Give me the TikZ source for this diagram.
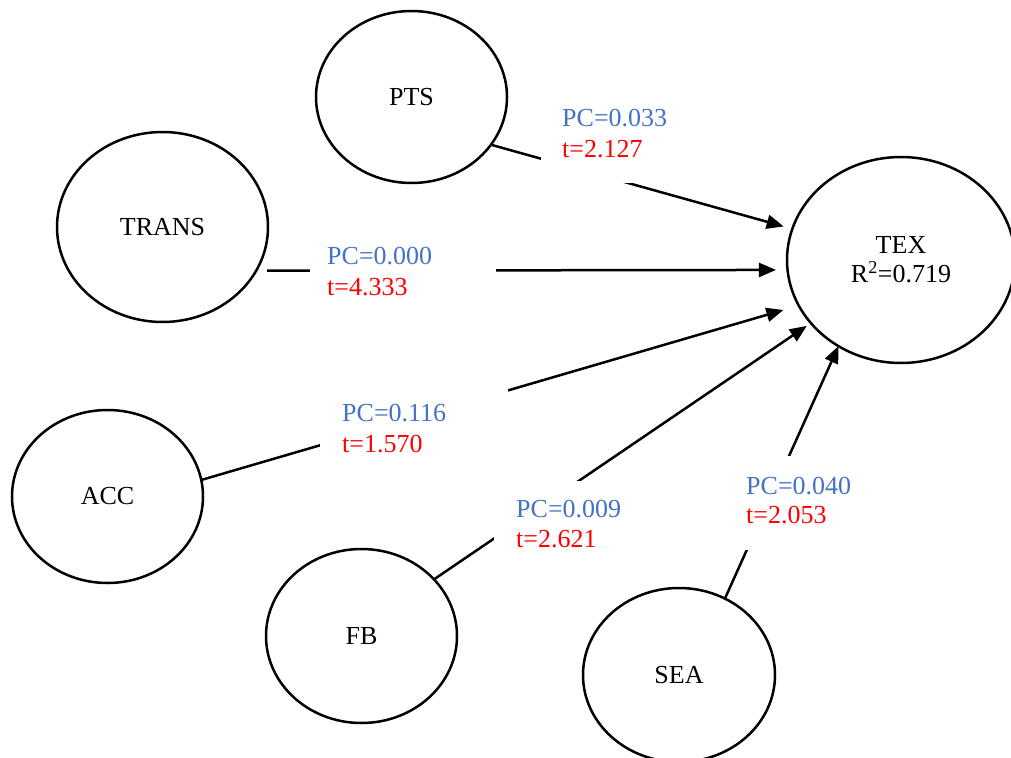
\documentclass[tikz,border=0pt]{standalone}
\usepackage{fontspec}
\setmainfont{Liberation Serif}
\usetikzlibrary{shapes.geometric,arrows.meta}
\definecolor{pcblue}{HTML}{4472C4}
\definecolor{tred}{HTML}{FF0000}
\begin{document}
\begin{tikzpicture}[x=1pt,y=-1pt,
  every node/.style={font=\fontsize{26}{29}\selectfont},
  lat/.style={ellipse, draw, line width=2.5pt, inner sep=0pt, outer sep=0pt, align=center},
  conn/.style={line width=2.5pt, -{Triangle[length=17pt,width=14pt]}},
  mask/.style={rectangle, fill=white, inner sep=0pt, outer sep=0pt, anchor=north west},
  pctext/.style={text=pcblue, anchor=base west, inner sep=0pt},
  ttext/.style={text=tred, anchor=base west, inner sep=0pt}]
\useasboundingbox (0,0) rectangle (1011,757);
% latent variables
\node[lat, minimum width=191pt, minimum height=172pt] (pts) at (411.5,97) {PTS};
\node[lat, minimum width=211pt, minimum height=190pt] (trans) at (162.5,227) {TRANS};
\node[lat, minimum width=191pt, minimum height=173pt] (acc) at (107.5,496.5) {ACC};
\node[lat, minimum width=191pt, minimum height=174pt] (fb) at (361.5,636) {FB};
\node[lat, minimum width=192pt, minimum height=174pt] (sea) at (679,675) {SEA};
\node[lat, minimum width=228pt, minimum height=206pt] (tex) at (901,260) {TEX\\R\textsuperscript{2}=0.719};
% paths
\draw[conn, shorten >=9pt] (pts.-31.7) -- (tex.164.2);
\draw[conn, shorten <=11pt, shorten >=11.6pt] (trans.-25.2) -- (tex.185.6);
\draw[conn, shorten >=16pt] (acc.10.7) -- (tex.204.2);
\draw[conn, shorten >=5pt] (fb.38.6) -- (tex.215.9);
\draw[conn] (sea.59) -- (tex.234.5);
% label backgrounds
\node[mask, minimum width=187pt, minimum height=95pt] (mpts) at (541,88) {};
\node[mask, minimum width=186pt, minimum height=96pt] (mtrans) at (310,226) {};
\node[mask, minimum width=188pt, minimum height=96pt] (macc) at (320,384) {};
\node[mask, minimum width=187pt, minimum height=92pt] (mfb) at (494,481) {};
\node[mask, minimum width=187pt, minimum height=94pt] (msea) at (725,456) {};
% labels
\node[pctext] (pc1) at (562,127) {PC=0.033};
\node[ttext] (t1) at (562,157) {t=2.127};
\node[pctext] (pc2) at (327,264) {PC=0.000};
\node[ttext] (t2) at (327,295) {t=4.333};
\node[pctext] (pc3) at (342,421) {PC=0.116};
\node[ttext] (t3) at (342,452) {t=1.570};
\node[pctext] (pc4) at (516,517) {PC=0.009};
\node[ttext] (t4) at (516,547) {t=2.621};
\node[pctext] (pc5) at (746,494) {PC=0.040};
\node[ttext] (t5) at (746,523) {t=2.053};
\end{tikzpicture}
\end{document}
